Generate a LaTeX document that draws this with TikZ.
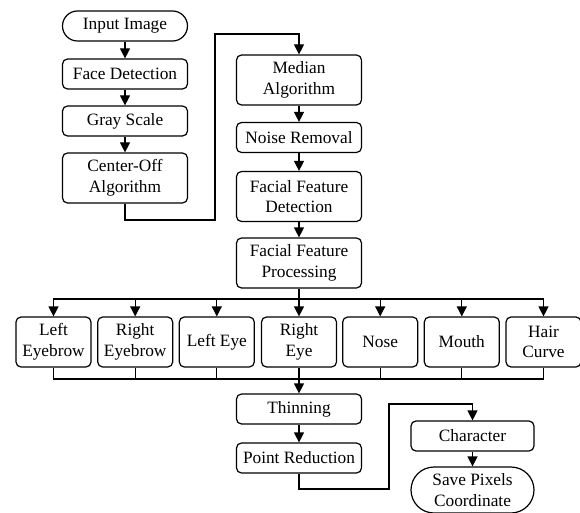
\documentclass[tikz,border=0pt]{standalone}
\usepackage{fontspec}
\setmainfont{Liberation Serif}
\usetikzlibrary{arrows.meta}

\tikzset{
    box/.style={draw, line width=1.2pt, rounded corners=5pt, inner sep=0pt,
        minimum width=125pt, minimum height=30pt, align=center,
        font=\fontsize{17.3}{20.5}\selectfont},
    term/.style={box, rounded corners=15pt},
    feat/.style={box, minimum width=75pt, minimum height=50pt},
    arr/.style={line width=1.2pt, -{Triangle[length=10pt,width=10pt]}},
    line/.style={line width=1.2pt}
}

\begin{document}
\begin{tikzpicture}[x=1pt,y=-1pt]
    \useasboundingbox (0,0) rectangle (580,513);

    \node[term] (input) at (125,26) {Input Image};
    \node[box] (face) at (125,74) {Face Detection};
    \node[box] (gray) at (125,121) {Gray Scale};
    \node[box, minimum height=50pt] (centeroff) at (125,178) {Center-Off\\Algorithm};

    \node[box, minimum height=50pt] (median) at (299,80) {Median\\Algorithm};
    \node[box] (noise) at (299,137.5) {Noise Removal};
    \node[box, minimum height=50pt] (ffdet) at (299,196.5) {Facial Feature\\Detection};
    \node[box, minimum height=50pt] (ffproc) at (299,263) {Facial Feature\\Processing};

    \node[feat] (leb) at (53.5,342) {Left\\Eyebrow};
    \node[feat] (reb) at (135.2,342) {Right\\Eyebrow};
    \node[feat] (leye) at (216.8,342) {Left Eye};
    \node[feat] (reye) at (299,342) {Right\\Eye};
    \node[feat] (nose) at (380.2,342) {Nose};
    \node[feat] (mouth) at (461.8,342) {Mouth};
    \node[feat] (hair) at (543.5,342) {Hair\\Curve};

    \node[box] (thinning) at (299,409) {Thinning};
    \node[box] (pointred) at (299,458) {Point Reduction};
    \node[box, minimum width=123pt] (character) at (472.5,436) {Character};
    \node[term, minimum width=123pt, minimum height=46pt, rounded corners=23pt] (save) at (472.5,490) {Save Pixels\\Coordinate};

    \coordinate (c1) at (215,220);
    \coordinate (c2) at (215,34);
    \coordinate (jt) at (299,299);
    \coordinate (jb) at (299,379);
    \coordinate (c3) at (389,489);
    \coordinate (c4) at (389,404);

    \draw[arr] (input) -- (face);
    \draw[arr] (face) -- (gray);
    \draw[arr] (gray) -- (centeroff);
    \draw[arr] (centeroff.south) |- (c1) -- (c2) -| (median.north);
    \draw[arr] (median) -- (noise);
    \draw[arr] (noise) -- (ffdet);
    \draw[arr] (ffdet) -- (ffproc);

    \draw[line] (ffproc.south) -- (jt);
    \foreach \n in {leb,reb,leye,reye,nose,mouth,hair}
        \draw[arr] (jt) -| (\n.north);
    \foreach \n in {leb,reb,leye,reye,nose,mouth,hair}
        \draw[line] (\n.south) |- (jb);
    \draw[arr] (jb) -- (thinning.north);

    \draw[arr] (thinning) -- (pointred);
    \draw[arr] (pointred.south) |- (c3) -- (c4) -| (character.north);
    \draw[arr] (character) -- (save);

\end{tikzpicture}
\end{document}
